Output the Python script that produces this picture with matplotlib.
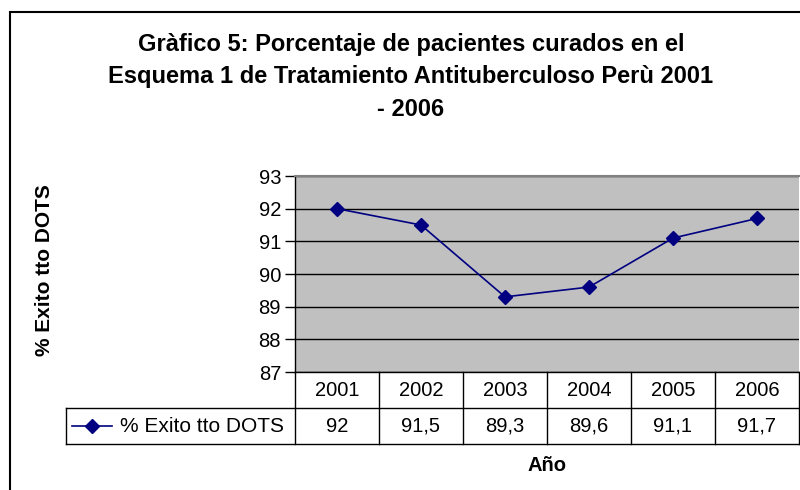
import numpy as np
import matplotlib.pyplot as plt
from matplotlib.lines import Line2D
from matplotlib.patches import Rectangle
import matplotlib.transforms as mtransforms

plt.rcParams['font.family'] = ['Liberation Sans', 'DejaVu Sans']

# =========================
# Datos
# =========================
years = ["2001", "2002", "2003", "2004", "2005", "2006"]
exito = [92, 91.5, 89.3, 89.6, 91.1, 91.7]
serie = "% Exito tto DOTS"
titulo = ("Gràfico 5: Porcentaje de pacientes curados en el\n"
          "Esquema 1 de Tratamiento Antituberculoso Perù 2001\n"
          "- 2006")

W, H = 800, 490
fig = plt.figure(figsize=(W / 100, H / 100), dpi=100)

# marco exterior
fig.patches.append(Rectangle((10 / W, -0.05), 1.1, (H - 12) / H + 0.05,
                             transform=fig.transFigure, fill=False,
                             edgecolor="black", linewidth=1.5))

# area de grafico
x0, x1 = 295, 799
y_top, y_bot = 176, 372
ax = fig.add_axes([x0 / W, (H - y_bot) / H, (x1 - x0) / W, (y_bot - y_top) / H])
ax.set_facecolor("#C0C0C0")

x = np.arange(len(years))
ax.plot(x, exito, color="#000080", linewidth=1.2, marker="D", markersize=7.5,
        zorder=3)

ax.set_xlim(-0.5, len(years) - 0.5)
ax.set_ylim(87, 93)
ax.set_yticks(range(87, 94))
ax.yaxis.grid(True, color="black", linewidth=1)
ax.set_axisbelow(True)
ax.set_xticks([])
ax.tick_params(axis="y", length=7, width=1, labelsize=14.5, pad=3, colors="black")

for s in ["right", "bottom"]:
    ax.spines[s].set_visible(False)
ax.spines["top"].set_color("#808080")
ax.spines["top"].set_linewidth(1.5)
ax.spines["left"].set_linewidth(1)

# =========================
# Tabla de datos
# =========================
px_y = 1.0 / (y_bot - y_top)          # un pixel en coords de eje (vertical)
row_h = 36 * px_y
blend = mtransforms.blended_transform_factory(ax.transData, ax.transAxes)
u = (x1 - x0) / len(years)
leg_left = -0.5 - (x0 - 66) / u

kw = dict(transform=blend, color="black", linewidth=1, clip_on=False)
# lineas horizontales
ax.add_line(Line2D([-0.5, len(years) - 0.5], [0, 0], **kw))
ax.add_line(Line2D([leg_left, len(years) - 0.5], [-row_h, -row_h], **kw))
ax.add_line(Line2D([leg_left, len(years) - 0.5], [-2 * row_h, -2 * row_h], **kw))
# lineas verticales
for i in range(len(years) + 1):
    ax.add_line(Line2D([i - 0.5, i - 0.5], [0, -2 * row_h], **kw))
ax.add_line(Line2D([leg_left, leg_left], [-row_h, -2 * row_h], **kw))

for i, (yr, v) in enumerate(zip(years, exito)):
    ax.text(i, -0.5 * row_h, yr, transform=blend, ha="center", va="center",
            fontsize=14.5)
    ax.text(i, -1.5 * row_h, f"{v:g}".replace(".", ","), transform=blend,
            ha="center", va="center", fontsize=14.5)

# leyenda en la tabla
lx = [leg_left + 6 / u, leg_left + 46 / u]
ax.add_line(Line2D(lx, [-1.5 * row_h] * 2, transform=blend, color="#000080",
                   linewidth=1.2, clip_on=False))
ax.add_line(Line2D([np.mean(lx)], [-1.5 * row_h], transform=blend,
                   color="#000080", marker="D", markersize=7.5, clip_on=False))
ax.text(leg_left + 54 / u, -1.5 * row_h, serie, transform=blend,
        ha="left", va="center", fontsize=15)

# =========================
# Textos
# =========================
fig.text(411 / W, 1 - 77 / H, titulo, ha="center", va="center",
         fontsize=17, fontweight="bold", linespacing=1.52)
fig.text(45 / W, 1 - 270 / H, serie, rotation=90, ha="center", va="center",
         fontsize=15, fontweight="bold")
fig.text(547 / W, 1 - 465 / H, "Año", ha="center", va="center",
         fontsize=14.5, fontweight="bold")

fig.savefig("out.png", dpi=100)
